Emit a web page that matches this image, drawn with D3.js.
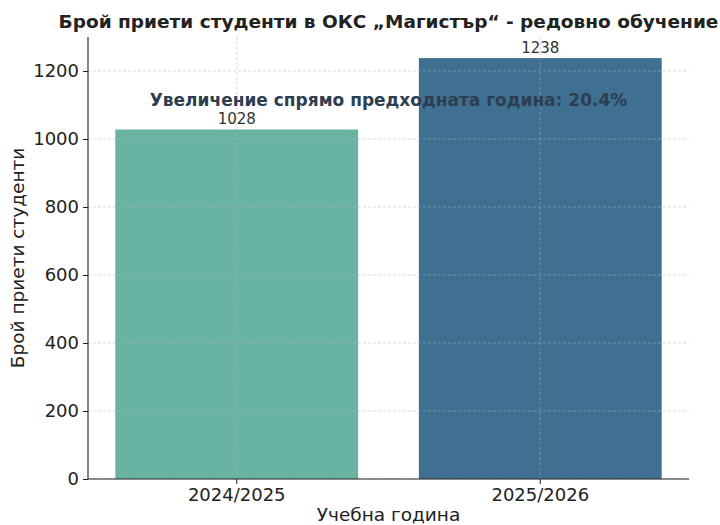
<!DOCTYPE html>
<html>
<head>
<meta charset="utf-8">
<script src="https://cdn.jsdelivr.net/npm/d3@7"></script>
<style>
  body { margin: 0; background: #fff; }
  text { font-family: "DejaVu Sans", sans-serif; }
</style>
</head>
<body>
<div id="chart"></div>
<script>
// data
var years = ["2024/2025", "2025/2026"];
var students = [1028, 1238];
var barColors = ["#69b3a2", "#3f7092"];
var yTicks = [0, 200, 400, 600, 800, 1000, 1200];

var width = 720, height = 525;
var margin = {top: 37, right: 31, bottom: 46, left: 88};

var svg = d3.select("#chart")
  .append("svg")
    .attr("width", width)
    .attr("height", height);

var x = d3.scaleBand()
    .domain(years)
    .range([margin.left, width - margin.right])
    .paddingInner(0.2)
    .paddingOuter(0.09);

var y = d3.scaleLinear()
    .domain([0, 1300])
    .range([height - margin.bottom, margin.top]);

var g = svg.append("g");

// bars
g.selectAll(".bar")
    .data(years)
  .enter()
    .append("rect")
    .attr("class", "bar")
    .attr("x", function(d) { return x(d); })
    .attr("y", function(d, i) { return y(students[i]); })
    .attr("width", x.bandwidth())
    .attr("height", function(d, i) { return y(0) - y(students[i]); })
    .attr("fill", function(d, i) { return barColors[i]; });

// grid on top of bars
g.selectAll(".hgrid")
    .data(yTicks)
  .enter()
    .append("line")
    .attr("x1", margin.left)
    .attr("x2", width - margin.right)
    .attr("y1", function(d) { return y(d); })
    .attr("y2", function(d) { return y(d); })
    .attr("stroke", "#b0b0b0")
    .attr("stroke-opacity", 0.6)
    .attr("stroke-dasharray", "3,2")
    .attr("stroke-width", 0.8);

g.selectAll(".vgrid")
    .data(years)
  .enter()
    .append("line")
    .attr("x1", function(d) { return x(d) + x.bandwidth() / 2; })
    .attr("x2", function(d) { return x(d) + x.bandwidth() / 2; })
    .attr("y1", margin.top)
    .attr("y2", height - margin.bottom)
    .attr("stroke", "#b0b0b0")
    .attr("stroke-opacity", 0.6)
    .attr("stroke-dasharray", "3,2")
    .attr("stroke-width", 0.8);

// axes
var yAxis = svg.append("g")
    .attr("transform", "translate(" + margin.left + ",0)")
    .call(d3.axisLeft(y).tickValues(yTicks).tickFormat(d3.format("d")).tickSize(5).tickPadding(4));
var xAxis = svg.append("g")
    .attr("transform", "translate(0," + (height - margin.bottom) + ")")
    .call(d3.axisBottom(x).tickSize(5).tickPadding(4));

[xAxis, yAxis].forEach(function(a) {
  a.select(".domain").attr("stroke", "#222").attr("stroke-width", 1.1);
  a.selectAll(".tick line").attr("stroke", "#222");
  a.selectAll(".tick text")
    .attr("fill", "#222")
    .style("font-size", "18px")
    .style("font-family", "DejaVu Sans, sans-serif");
});
// matplotlib-like spine: no end caps
yAxis.select(".domain").attr("d", "M0," + margin.top + "V" + (height - margin.bottom));
xAxis.select(".domain").attr("d", "M" + margin.left + ",0H" + (width - margin.right));

// value labels
g.selectAll(".val")
    .data(years)
  .enter()
    .append("text")
    .attr("x", function(d) { return x(d) + x.bandwidth() / 2; })
    .attr("y", function(d, i) { return y(students[i]) - 5; })
    .attr("text-anchor", "middle")
    .attr("fill", "#333")
    .style("font-size", "15px")
    .text(function(d, i) { return students[i]; });

// change annotation
var change = (students[1] - students[0]) / students[0] * 100;
svg.append("text")
    .attr("x", (margin.left + width - margin.right) / 2)
    .attr("y", y(students[1] * 0.9) + 6)
    .attr("text-anchor", "middle")
    .attr("fill", "#2c3e50")
    .style("font-size", "17px")
    .style("font-weight", "bold")
    .text("Увеличение спрямо предходната година: " + change.toFixed(1) + "%");

// title and axis labels
svg.append("text")
    .attr("x", (margin.left + width - margin.right) / 2)
    .attr("y", 28)
    .attr("text-anchor", "middle")
    .attr("fill", "#222")
    .style("font-size", "18.5px")
    .style("font-weight", "bold")
    .text("Брой приети студенти в ОКС „Магистър“ - редовно обучение");

svg.append("text")
    .attr("x", (margin.left + width - margin.right) / 2)
    .attr("y", 521)
    .attr("text-anchor", "middle")
    .attr("fill", "#222")
    .style("font-size", "18.5px")
    .text("Учебна година");

svg.append("text")
    .attr("transform", "translate(24," + ((margin.top + height - margin.bottom) / 2) + ") rotate(-90)")
    .attr("text-anchor", "middle")
    .attr("fill", "#222")
    .style("font-size", "18.5px")
    .text("Брой приети студенти");
</script>
</body>
</html>
